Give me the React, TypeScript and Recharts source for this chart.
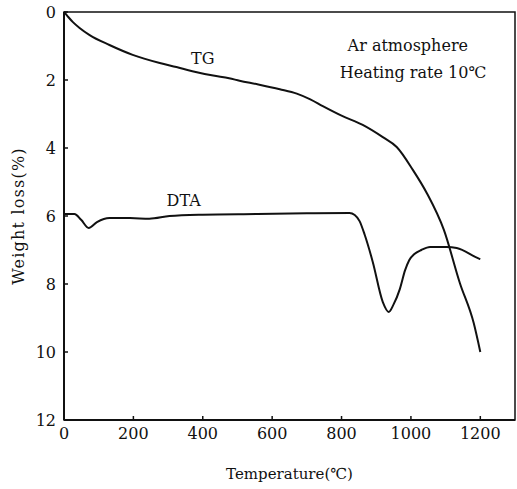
import { Label, Line, LineChart, ReferenceArea, ReferenceDot, XAxis, YAxis } from 'recharts';

// TG weight loss curve: [temperature °C, weight loss %]
const tgTemp = [0, 10, 25, 45, 74, 131, 198, 276, 324, 370, 430, 476, 506, 560, 622, 671, 710, 746, 800, 861, 919, 959, 1006, 1046, 1095, 1141, 1181, 1200];
const tgLoss = [0, 0.12, 0.29, 0.47, 0.68, 0.97, 1.26, 1.5, 1.62, 1.74, 1.87, 1.95, 2.02, 2.13, 2.27, 2.4, 2.57, 2.77, 3.05, 3.32, 3.68, 3.97, 4.65, 5.33, 6.41, 7.97, 9.15, 10.0];

// DTA trace, drawn on the same scale
const dtaTemp = [0, 30, 50, 71, 95, 131, 190, 246, 304, 400, 557, 700, 823, 838, 852, 867, 890, 919, 936, 950, 968, 983, 995, 1010, 1030, 1055, 1103, 1132, 1193, 1200];
const dtaVal = [5.94, 5.94, 6.12, 6.35, 6.18, 6.06, 6.06, 6.08, 6.0, 5.96, 5.94, 5.92, 5.91, 5.97, 6.15, 6.56, 7.35, 8.53, 8.82, 8.6, 8.15, 7.6, 7.3, 7.12, 7.0, 6.91, 6.91, 6.94, 7.24, 7.27];

const xTicks = [0, 200, 400, 600, 800, 1000, 1200];
const yTicks = [0, 2, 4, 6, 8, 10, 12];

// curve labels and the note in the corner
const notes = [
  { x: 400, y: 1.35, text: 'TG' },
  { x: 345, y: 5.53, text: 'DTA' },
  { x: 991, y: 0.97, text: 'Ar atmosphere' },
  { x: 1006, y: 1.76, text: 'Heating rate 10℃' },
];

const tgData = tgTemp.map((t, i) => ({ t, v: tgLoss[i] }));
const dtaData = dtaTemp.map((t, i) => ({ t, v: dtaVal[i] }));

const FONT = '"DejaVu Serif", "Liberation Serif", serif';
const INK = '#111';

// eslint-disable-next-line @typescript-eslint/no-explicit-any
function YTitle({ viewBox }: any) {
  const cy = viewBox.y + viewBox.height / 2;
  return (
    <text
      x={18}
      y={cy}
      transform={`rotate(-90 18 ${cy})`}
      textAnchor="middle"
      dominantBaseline="central"
      fontFamily={FONT}
      fontSize={16}
      letterSpacing={1.2}
      fill={INK}
    >
      Weight loss(%)
    </text>
  );
}

export default function App() {
  const tick = { fill: INK, fontSize: 16, fontFamily: FONT };
  return (
    <div style={{ position: 'absolute', left: 0, top: 0, background: '#fff' }}>
      <LineChart width={517} height={489} margin={{ top: 12, right: 2, bottom: 0, left: 0 }}>
        <XAxis
          type="number"
          dataKey="t"
          domain={[0, 1300]}
          ticks={xTicks}
          allowDataOverflow
          height={69}
          tickSize={-4}
          tickMargin={12}
          tick={tick}
          tickLine={{ stroke: INK, strokeWidth: 1.5 }}
          axisLine={{ stroke: INK, strokeWidth: 2 }}
        >
          <Label
            value="Temperature(℃)"
            position="insideBottom"
            offset={10}
            style={{ fill: INK, fontSize: 15, fontFamily: FONT }}
          />
        </XAxis>
        <YAxis
          type="number"
          domain={[0, 12]}
          ticks={yTicks}
          reversed
          width={64}
          tickSize={-4}
          tickMargin={12}
          tick={tick}
          tickLine={{ stroke: INK, strokeWidth: 1.5 }}
          axisLine={{ stroke: INK, strokeWidth: 2 }}
        >
          <Label content={<YTitle />} />
        </YAxis>
        {/* frame round the plot */}
        <ReferenceArea
          x1={0}
          x2={1300}
          y1={0}
          y2={12}
          fill="none"
          stroke={INK}
          strokeWidth={1.5}
          ifOverflow="visible"
        />
        <Line
          data={tgData}
          dataKey="v"
          type="monotone"
          stroke={INK}
          strokeWidth={2}
          dot={false}
          isAnimationActive={false}
        />
        <Line
          data={dtaData}
          dataKey="v"
          type="monotone"
          stroke={INK}
          strokeWidth={2}
          dot={false}
          isAnimationActive={false}
        />
        {notes.map((n) => (
          <ReferenceDot
            key={n.text}
            x={n.x}
            y={n.y}
            r={0}
            stroke="none"
            fill="none"
            label={{ value: n.text, position: 'center', fill: INK, fontSize: 16, fontFamily: FONT }}
          />
        ))}
      </LineChart>
    </div>
  );
}
